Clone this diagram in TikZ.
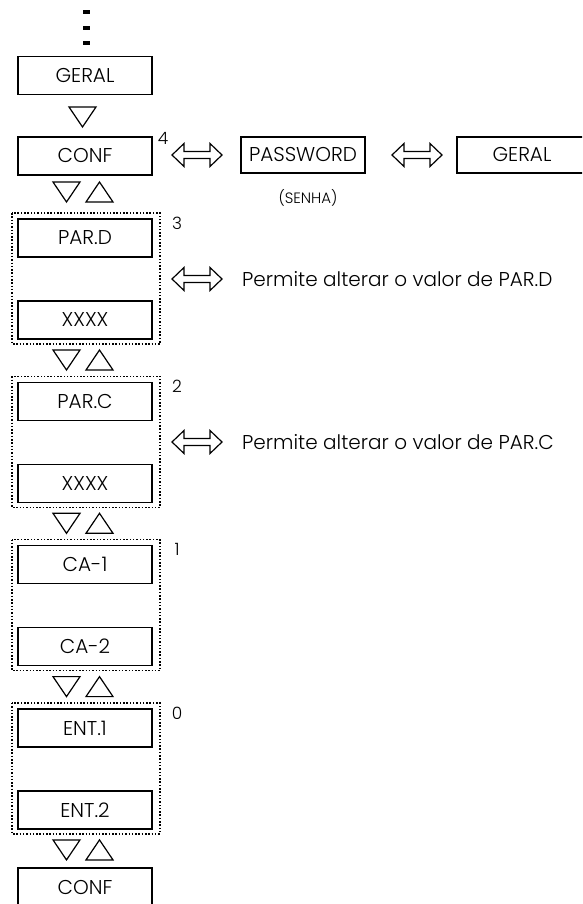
\documentclass[tikz,border=0pt]{standalone}
\usepackage{fontspec}
\setmainfont{Poppins Light}
\usetikzlibrary{calc, positioning}

\tikzset{
  caixa/.style={draw, line width=1.4pt, minimum width=134pt, minimum height=38pt,
    inner sep=0pt, font=\fontsize{20}{20}\selectfont},
  grupo/.style={draw, line width=1.3pt, dash pattern=on 1.5pt off 1.8pt},
  numero/.style={inner sep=0pt, font=\fontsize{17}{17}\selectfont},
  texto/.style={inner sep=0pt, anchor=west, font=\fontsize{20}{20}\selectfont},
  tridown/.pic={\draw[line width=1.2pt, line join=miter] (-13.5,-10) -- (13.5,-10) -- (0,10) -- cycle;},
  triup/.pic={\draw[line width=1.2pt, line join=miter] (-13.5,10) -- (13.5,10) -- (0,-10) -- cycle;},
  dblarr/.pic={\draw[line width=1.2pt, line join=miter]
    (-25,0) -- (-13,-11.5) -- (-13,-3.5) -- (13,-3.5) -- (13,-11.5) -- (25,0)
    -- (13,11.5) -- (13,3.5) -- (-13,3.5) -- (-13,11.5) -- cycle;}
}

\begin{document}
\begin{tikzpicture}[x=1pt, y=-1pt]
\useasboundingbox (0,0) rectangle (582,904);
\clip (0,0) rectangle (582,904);

% dots on top
\foreach \y in {12,28,43}
    \fill (82.5,\y-1.6) rectangle (90,\y+1.6);

% GERAL -> CONF
\node[caixa] (geral) at (85,75.5) {GERAL};
\pic at (82.5,117) {tridown};
\node[caixa] (conf) at (85,156) {CONF};
\node[numero] (n4) at (163,138) {4};

% PASSWORD line
\node[caixa, minimum width=124pt, minimum height=36pt] (pass) at (303,155) {PASSWORD};
\node[inner sep=0pt, font=\fontsize{15}{15}\selectfont] (senha) at (308,198) {(SENHA)};
\node[caixa, minimum width=130pt, minimum height=36pt] (geral2) at (522,155) {GERAL};
\pic at (197,155) {dblarr};
\pic at (417,155) {dblarr};

\pic at (66.5,192) {tridown};
\pic at (99.5,192) {triup};

% levels 3..0
\foreach \k/\a/\b/\n in {0/PAR.D/XXXX/3, 1/PAR.C/XXXX/2, 2/CA-1/CA-2/1, 3/ENT.1/ENT.2/0}{
    \pgfmathsetmacro{\T}{213+163.3*\k}
    \draw[grupo] (12,\T) rectangle (160,\T+131);
    \node[caixa] (sup\k) at (85,\T+25) {\a};
    \node[caixa] (inf\k) at (85,\T+107) {\b};
    \node[numero] (n\n) at (177,\T+10) {\n};
    \pic at (66.5,\T+147) {tridown};
    \pic at (99.5,\T+147) {triup};
}

% editable values
\pic at (197,279) {dblarr};
\node[texto] (txtd) at (242,279) {Permite alterar o valor de PAR.D};
\pic at (197,442) {dblarr};
\node[texto] (txtc) at (242,442) {Permite alterar o valor de PAR.C};

% back to CONF
\node[caixa] (conf2) at (85,887) {CONF};
\end{tikzpicture}
\end{document}
